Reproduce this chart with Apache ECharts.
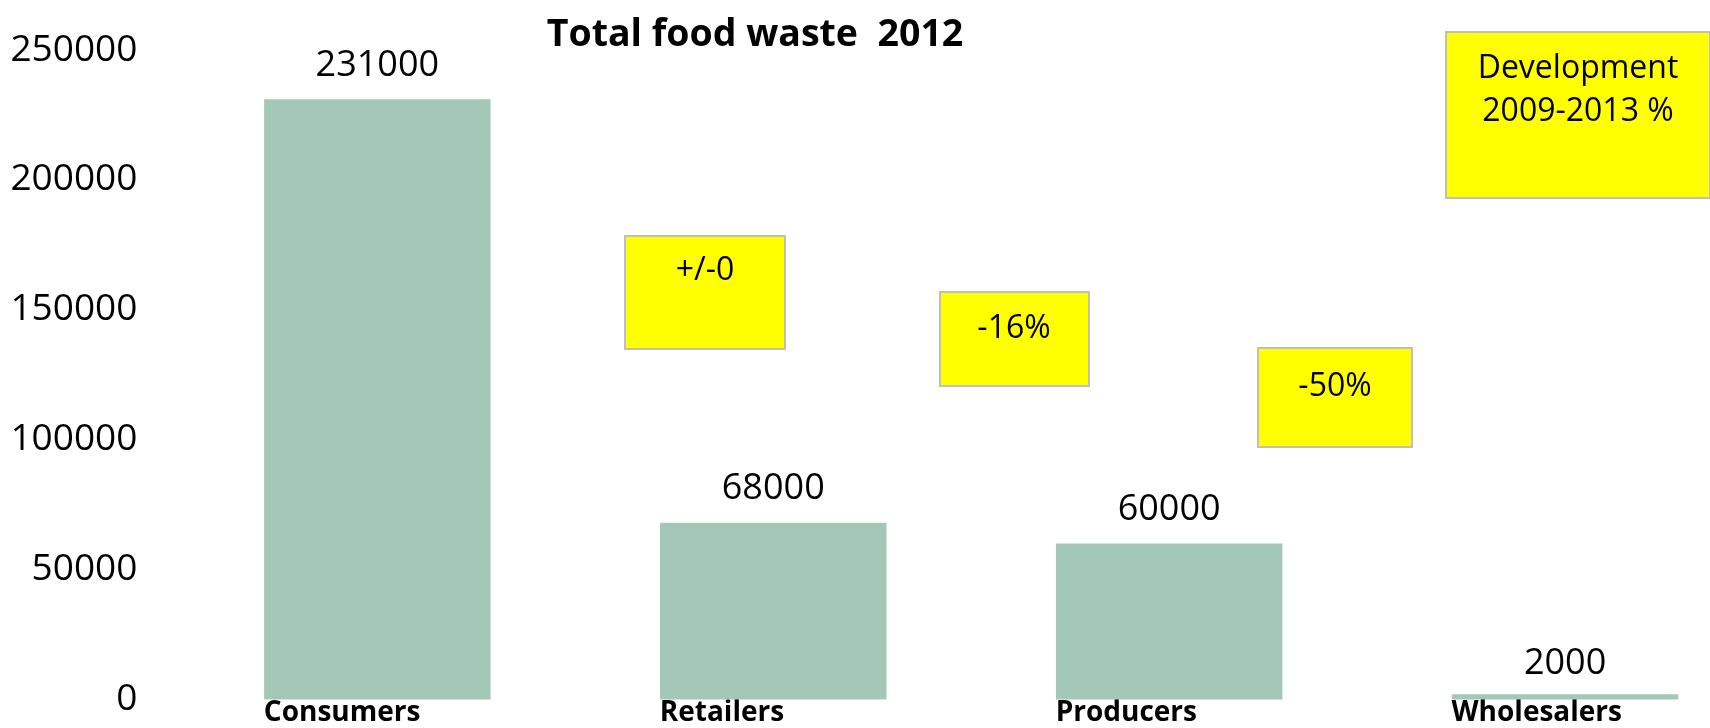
<!DOCTYPE html>
<html>
<head>
<meta charset="utf-8">
<script src="https://cdn.jsdelivr.net/npm/echarts@6/dist/echarts.min.js"></script>
<style>
html,body{margin:0;padding:0;background:#fff;}
#chart{width:1710px;height:728px;}
</style>
</head>
<body>
<div id="chart"></div>
<script>
const titleText = 'Total food waste  2012';
const categories = ['Consumers', 'Retailers', 'Producers', 'Wholesalers'];
const values = [231000, 68000, 60000, 2000];
const yMin = 0, yMax = 250000, yInterval = 50000;
const changeLabels = ['+/-0', '-16%', '-50%'];
const devLabel = 'Development\n2009-2013 %';

const chart = echarts.init(document.getElementById('chart'));
const numFont = '"Open Sans", "Liberation Sans", sans-serif';

const boxStyle = {fill: '#ffff00', stroke: '#bfbfbf', lineWidth: 2};
function box(x, y, w, h, text, tx, ty) {
  return {
    type: 'group',
    children: [
      {type: 'rect', shape: {x: x, y: y, width: w, height: h}, style: boxStyle},
      {type: 'text', style: {text: text, x: tx, y: ty, fill: '#000',
        fontSize: 32, fontFamily: numFont, lineHeight: 43,
        align: 'center', verticalAlign: 'middle', textAlign: 'center', textVerticalAlign: 'middle'}}
    ]
  };
}

const seriesData = values.map(function (v) {
  return v < 10000 ? {value: v, label: {distance: 13}} : v;
});

const option = {
  backgroundColor: '#fff',
  animation: false,
  title: {
    text: titleText,
    left: 755, top: 16, textAlign: 'center', padding: 0,
    textStyle: {fontFamily: numFont, fontWeight: 'bold', fontSize: 37.5, color: '#000'}
  },
  grid: {left: 179.4, top: 50, width: 1583.6, height: 649.5, containLabel: false, outerBoundsMode: 'none'},
  xAxis: {
    type: 'category',
    data: categories,
    axisLine: {show: false},
    axisTick: {show: false},
    splitLine: {show: false},
    axisLabel: {
      interval: 0, margin: 0, align: 'center',
      formatter: '{a|{value}}',
      rich: {a: {width: 227, align: 'left', fontFamily: numFont, fontWeight: 'bold', fontSize: 28, color: '#000'}}
    }
  },
  yAxis: {
    type: 'value',
    min: yMin, max: yMax, interval: yInterval,
    axisLine: {show: false},
    axisTick: {show: false},
    splitLine: {show: false},
    axisLabel: {margin: 42, fontFamily: numFont, fontSize: 37, color: '#000',
      formatter: function (v) { return String(v); }}
  },
  series: [{
    type: 'bar',
    data: seriesData,
    barWidth: '57.2%',
    itemStyle: {color: '#a3c8b7'},
    label: {show: true, position: 'top', distance: 16, fontFamily: numFont, fontSize: 36, color: '#000'}
  }],
  graphic: [
    box(625, 236, 160, 113, changeLabels[0], 705, 271),
    box(940, 292, 149, 94, changeLabels[1], 1014, 329),
    box(1258, 348, 154, 99, changeLabels[2], 1335, 387),
    box(1446, 32, 264, 166, devLabel, 1578, 90)
  ]
};
chart.setOption(option);
</script>
</body>
</html>
